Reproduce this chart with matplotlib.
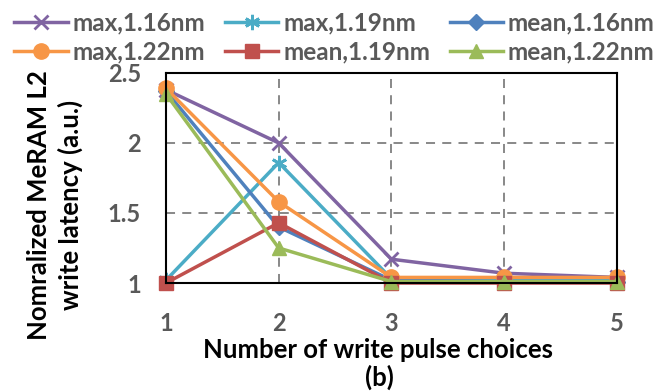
import matplotlib.pyplot as plt

# choices of write pulse
choices = [1, 2, 3, 4, 5]

max_116 = [2.38, 2.00, 1.17, 1.07, 1.04]
max_119 = [1.02, 1.86, 1.03, 1.02, 1.03]
mean_116 = [2.37, 1.40, 1.02, 1.01, 1.01]
max_122 = [2.39, 1.58, 1.04, 1.04, 1.04]
mean_119 = [1.00, 1.43, 1.00, 1.00, 1.00]
mean_122 = [2.35, 1.25, 1.01, 1.01, 1.01]

plt.rcParams['font.family'] = ['Lato', 'DejaVu Sans']
plt.rcParams['font.weight'] = 'bold'
txt = '#595959'

fig = plt.figure(figsize=(6.56, 3.92), dpi=100)
ax = fig.add_axes([0.253, 0.278, 0.6875, 0.536])

series = [
    (max_116, 'max,1.16nm', '#8064A2', 'x', 10),
    (max_122, 'max,1.22nm', '#F79646', 'o', 11),
    (max_119, 'max,1.19nm', '#4BACC6', '*', 0),
    (mean_119, 'mean,1.19nm', '#C0504D', 's', 10.5),
    (mean_116, 'mean,1.16nm', '#4F81BD', 'D', 8),
    (mean_122, 'mean,1.22nm', '#9BBB59', '^', 10.5),
]
order = [0, 1, 2, 3, 4, 5]
# draw in the original plotting order so red/green sit on top
draw_order = [0, 2, 4, 1, 3, 5]
handles = {}
for i in draw_order:
    vals, lab, col, mk, ms = series[i]
    if mk == '*':
        h, = ax.plot(choices, vals, color=col, lw=2.5, marker=(6, 2, 0),
                     ms=11, mew=2, label=lab, clip_on=False)
    elif mk == 'x':
        h, = ax.plot(choices, vals, color=col, lw=2.5, marker='x', ms=ms,
                     mew=2, label=lab, clip_on=False)
    else:
        h, = ax.plot(choices, vals, color=col, lw=2.5, marker=mk, ms=ms,
                     label=lab, clip_on=False)
    handles[i] = h

ax.set_xlim(1, 5)
ax.set_ylim(1, 2.5)
ax.set_xticks(choices)
ax.set_yticks([1, 1.5, 2, 2.5])
ax.set_yticklabels(['1', '1.5', '2', '2.5'])
ax.grid(True, ls=(0, (5, 4)), color='#7f7f7f', lw=1.3)
for s in ax.spines.values():
    s.set_color('black')
    s.set_linewidth(1.5)
ax.tick_params(length=0, labelsize=17, colors=txt)
ax.tick_params(axis='x', pad=21)
ax.tick_params(axis='y', pad=18)
for t in ax.get_xticklabels() + ax.get_yticklabels():
    t.set_fontweight('bold')

ax.set_xlabel('Number of write pulse choices', fontsize=18.5,
              fontweight='bold', color='black')
ax.xaxis.set_label_coords(0.47, -0.26)
fig.text(0.578, 0.015, '(b)', ha='center', fontsize=18.5, fontweight='bold')
ax.set_ylabel('Nomralized MeRAM L2\nwrite latency (a.u.)', fontsize=18.5,
              fontweight='bold', color='black', linespacing=1.3)
ax.yaxis.set_label_coords(-0.185, 0.37)

leg = fig.legend([handles[i] for i in order], [series[i][1] for i in order],
                 ncol=3, loc='upper center', bbox_to_anchor=(0.51, 0.995),
                 frameon=False, fontsize=17.5, handlelength=2.2,
                 handletextpad=0.2, columnspacing=0.8, labelspacing=0.25,
                 borderaxespad=0)
for t in leg.get_texts():
    t.set_color(txt)
    t.set_fontweight('bold')

fig.savefig('out.png', dpi=100)
